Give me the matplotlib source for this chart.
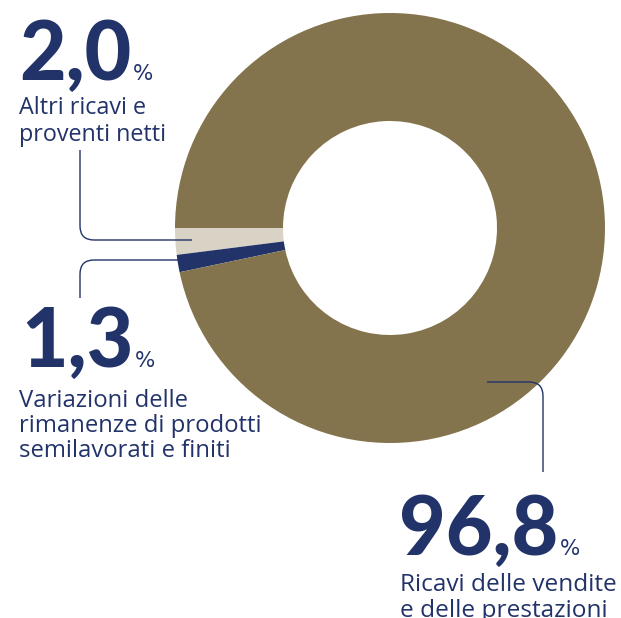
import matplotlib
matplotlib.use("Agg")
import matplotlib.pyplot as plt
from matplotlib.path import Path
from matplotlib.patches import PathPatch

values = [2.0, 1.3, 96.8]
big_labels = ["2,0", "1,3", "96,8"]
descriptions = [
    ["Altri ricavi e", "proventi netti"],
    ["Variazioni delle", "rimanenze di prodotti", "semilavorati e finiti"],
    ["Ricavi delle vendite", "e delle prestazioni"],
]
colors = ["#d9d3c6", "#22336a", "#84744e"]
navy = "#22336a"

W, H = 621, 618
fig = plt.figure(figsize=(W / 100, H / 100), dpi=100)
ax = fig.add_axes([0, 0, 1, 1])

def Y(y):
    # picture pixel row -> data y
    return H - y

ax.pie(values, colors=colors, startangle=180, counterclock=True,
       center=(390, Y(228)), radius=215, frame=True,
       wedgeprops=dict(width=108, linewidth=0))
ax.set_xlim(0, W)
ax.set_ylim(0, H)
ax.set_aspect("equal")
ax.axis("off")

def leader(pts):
    (x0, y0), (xc, yc), (x1, y1) = pts
    r = 14
    def toward(a, b, d):
        dx, dy = b[0] - a[0], b[1] - a[1]
        n = (dx * dx + dy * dy) ** 0.5
        return (b[0] - dx / n * d, b[1] - dy / n * d)
    p0 = (x0, Y(y0))
    c = (xc, Y(yc))
    p1 = (x1, Y(y1))
    a = toward(p0, c, r)
    b = toward(p1, c, r)
    path = Path([p0, a, c, b, p1],
                [Path.MOVETO, Path.LINETO, Path.CURVE3, Path.CURVE3, Path.LINETO])
    ax.add_patch(PathPatch(path, fill=False, edgecolor=navy, lw=1.0))

leader([(80, 150), (80, 240), (192, 240)])
leader([(80, 298), (80, 260), (178, 260)])
leader([(487, 382), (543, 382), (543, 472)])

big_font = dict(family="Lato", weight="black", color=navy, fontsize=58)
pct_font = dict(family="DejaVu Sans", color=navy, fontsize=15.5)

big_pos = [(19, 80), (21, 367), (399, 555)]
lab_pos = [(19, 114), (19, 407), (400, 591)]
lab_size = [16.8, 17.2, 17.6]
lab_step = [27, 25, 26]

renderer = fig.canvas.get_renderer()
for i in range(3):
    bx, by = big_pos[i]
    t = ax.text(bx, Y(by), big_labels[i], ha="left", va="baseline", **big_font)
    bb = t.get_window_extent(renderer)
    ax.text(bb.x1 + 2, Y(by), "%", ha="left", va="baseline", **pct_font)
    lx, ly = lab_pos[i]
    for k, line in enumerate(descriptions[i]):
        ax.text(lx, Y(ly + k * lab_step[i]), line, ha="left", va="baseline",
                family="Open Sans", color=navy, fontsize=lab_size[i])

fig.savefig("out.png", dpi=100)
